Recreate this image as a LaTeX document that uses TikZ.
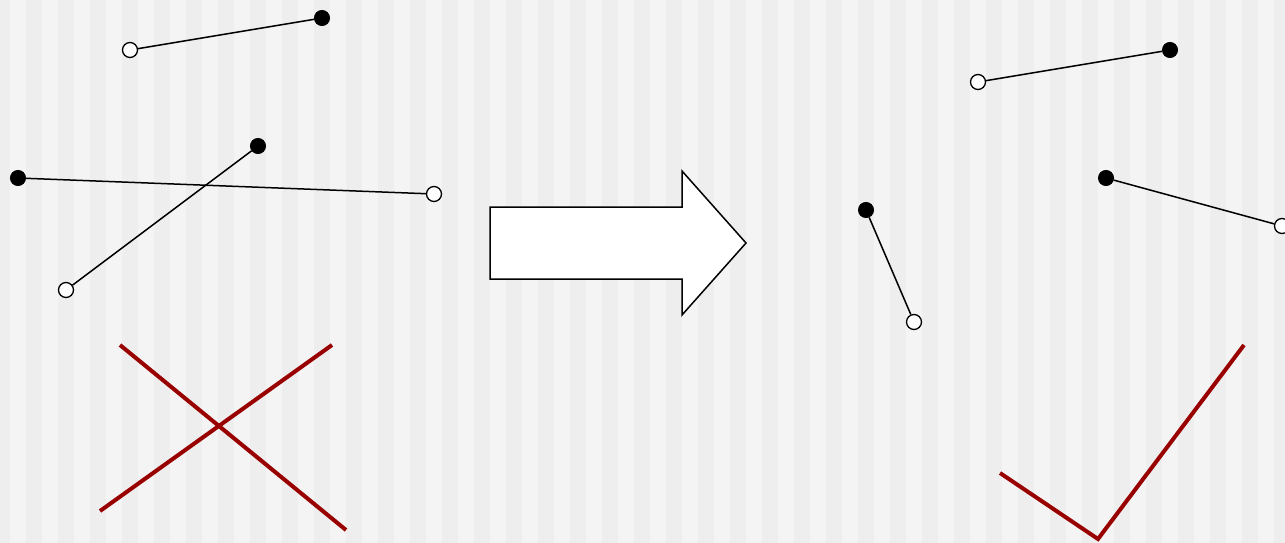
\documentclass[tikz,border=0pt]{standalone}
\usepackage{tikz}
\definecolor{stripedark}{HTML}{EEEEEE}
\definecolor{stripelight}{HTML}{F4F4F4}
\definecolor{markred}{HTML}{990000}
\tikzset{
  dotfull/.style={circle, fill=black, draw=black, line width=1pt, inner sep=0pt, minimum size=15pt},
  dotopen/.style={circle, fill=white, draw=black, line width=1.3pt, inner sep=0pt, minimum size=15pt},
  seg/.style={draw=black, line width=1.5pt},
  redstroke/.style={draw=markred, line width=4pt},
  blockarrow/.style={draw=black, fill=white, line width=1.5pt, line join=miter}
}
\begin{document}
\begin{tikzpicture}[x=1pt,y=-1pt]
\useasboundingbox (0,0) rectangle (1285,543);
\fill[stripelight] (0,0) rectangle (1285,543);
\foreach \i in {0,...,40} {
  \fill[stripedark] ({-6+32*\i},0) rectangle ({10+32*\i},543);
}
% left side
\node[dotopen] (l1a) at (130,50) {};
\node[dotfull] (l1b) at (322,18) {};
\node[dotfull] (l2a) at (258,146) {};
\node[dotopen] (l2b) at (66,290) {};
\node[dotfull] (l3a) at (18,178) {};
\node[dotopen] (l3b) at (434,194) {};
\draw[seg] (l1a) -- (l1b);
\draw[seg] (l2a) -- (l2b);
\draw[seg] (l3a) -- (l3b);
% red cross
\coordinate (x1a) at (120,345);
\coordinate (x1b) at (346,530);
\coordinate (x2a) at (100,511);
\coordinate (x2b) at (332,345);
\draw[redstroke] (x1a) -- (x1b);
\draw[redstroke] (x2a) -- (x2b);
% block arrow
\draw[blockarrow] (490,207) -- (682,207) -- (682,171) -- (746,243) -- (682,315) -- (682,279) -- (490,279) -- cycle;
% right side
\node[dotopen] (r1a) at (978,82) {};
\node[dotfull] (r1b) at (1170,50) {};
\node[dotfull] (r2a) at (1106,178) {};
\node[dotopen] (r2b) at (1282,226) {};
\node[dotfull] (r3a) at (866,210) {};
\node[dotopen] (r3b) at (914,322) {};
\draw[seg] (r1a) -- (r1b);
\draw[seg] (r2a) -- (r2b);
\draw[seg] (r3a) -- (r3b);
% check mark
\coordinate (c1) at (1000,473);
\coordinate (c2) at (1098,539);
\coordinate (c3) at (1244,345);
\draw[redstroke, line join=miter] (c1) -- (c2) -- (c3);
\end{tikzpicture}
\end{document}
